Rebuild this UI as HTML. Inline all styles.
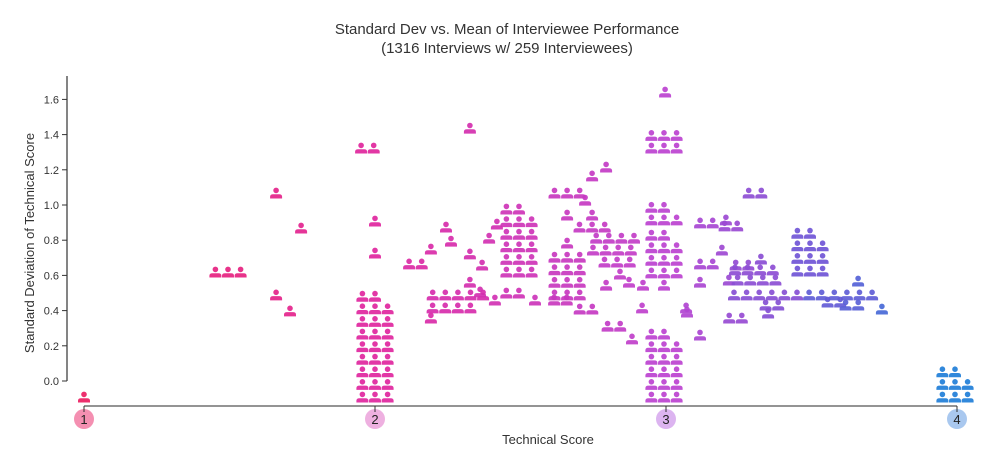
<!DOCTYPE html>
<html><head><meta charset="utf-8"><style>
body{margin:0;background:#fff;}
svg{display:block;font-family:"Liberation Sans",sans-serif;}
</style></head><body>
<svg id="chart" width="1000" height="466">
<text x="507" y="34" text-anchor="middle" font-size="15" fill="#333">Standard Dev vs. Mean of Interviewee Performance</text>
<text x="507" y="53" text-anchor="middle" font-size="15" fill="#333">(1316 Interviews w/ 259 Interviewees)</text>
<text transform="translate(34,243) rotate(-90)" text-anchor="middle" font-size="13" fill="#333">Standard Deviation of Technical Score</text>
<text x="548" y="444" text-anchor="middle" font-size="13" fill="#333">Technical Score</text>
<g id="axes"></g>
<g id="marks"></g>
</svg>
<script>
const yTicks=[0,0.2,0.4,0.6,0.8,1.0,1.2,1.4,1.6];
const xTicks=[1,2,3,4];
const tickColors=['#f48fb1','#eeb0e0','#dcb4f0','#a9c8ef'];
// clusters: mean, sd, count, columns
const means=[1.0,1.495,1.660,1.746,1.660,1.708,2.0,1.974,2.0,2.0,2.139,2.326,2.746,2.794,2.660,2.722,2.495,2.419,2.392,2.244,2.261,2.192,2.326,2.368,2.326,2.263,2.285,2.192,2.412,2.473,2.550,2.637,2.660,2.660,2.725,2.660,2.746,2.746,2.825,2.814,2.832,2.842,2.873,2.794,2.921,2.821,2.883,2.918,3.069,2.993,2.997,2.993,2.993,2.993,3.139,3.139,3.117,3.117,2.993,3.306,3.223,3.206,3.192,3.261,3.326,3.302,3.216,3.311,3.342,3.600,3.364,3.351,3.072,3.239,3.495,3.660,3.577,3.639,3.742,3.993,2.361];
const sds=[0,0.710,1.159,0.960,0.580,0.489,0,1.415,1.0,0.818,0.756,1.528,1.256,1.307,1.159,1.119,0.710,0.983,0.903,0.966,0.886,0.841,0.813,0.750,0.653,0.506,0.580,0.449,0.551,0.591,0.551,0.551,0.580,0.875,0.5,1.034,1.034,0.966,0.903,0.835,0.767,0.699,0.653,0.636,0.636,0.403,0.330,0.506,0.506,1.415,1.733,0.636,0.705,1.006,0.989,0.756,0.653,0.352,0,1.159,0.972,1.006,0.835,0.750,0.784,0.722,0.665,0.665,0.580,0.580,0.523,0.477,0.483,0.449,0.716,0.659,0.540,0.523,0.5,0,0.597];
const counts=[1,3,1,1,1,1,26,2,1,1,2,1,1,1,3,1,17,1,1,1,1,1,1,1,1,4,5,1,1,2,1,2,12,1,2,1,1,3,4,4,3,1,1,1,1,2,1,1,1,6,1,1,11,5,2,2,1,1,17,2,2,1,1,2,1,4,1,4,6,6,2,1,1,2,11,1,2,2,1,8,1];
const cols=[1,3,1,1,1,1,3,2,1,1,2,1,1,1,3,1,3,1,1,1,1,1,1,1,1,4,5,1,1,2,1,2,3,1,2,1,1,3,4,4,3,1,1,1,1,2,1,1,1,3,1,1,3,3,2,2,1,1,3,2,2,1,1,2,1,4,1,4,6,6,2,1,1,2,3,1,2,2,1,3,1];

const NS='http://www.w3.org/2000/svg';
const X=v=>84+(v-1)*291;
const Y=v=>381-v*176;
const OFF=16, STEP=12.6;
const axes=document.getElementById('axes'), marks=document.getElementById('marks');
function mk(t,a,p){const e=document.createElementNS(NS,t);for(const k in a)e.setAttribute(k,a[k]);p.appendChild(e);return e;}
const stops=[[1,[236,30,98]],[2,[224,38,158]],[3,[188,66,208]],[3.5,[111,85,214]],[4,[31,127,216]]];
function col(m){for(let i=0;i<stops.length-1;i++){const[a,ca]=stops[i],[b,cb]=stops[i+1];if(m<=b||i===stops.length-2){const t=Math.max(0,Math.min(1,(m-a)/(b-a)));return 'rgb('+ca.map((c,j)=>Math.round(c+(cb[j]-c)*t)).join(',')+')';}}}
// y axis
const ya=mk('line',{x1:67,y1:76,x2:67,y2:381,stroke:'#333','stroke-width':1.2},axes);

yTicks.forEach(v=>{
 const t=mk('line',{x1:62,y1:Y(v),x2:67,y2:Y(v),stroke:'#333'},axes);
 
 const l=mk('text',{x:59,y:Y(v)+4,'text-anchor':'end','font-size':11,fill:'#333'},axes);
 l.textContent=v.toFixed(1);
 
});
const xa=mk('line',{x1:X(1),y1:406,x2:X(4),y2:406,stroke:'#555','stroke-width':1.2},axes);

xTicks.forEach((v,i)=>{
 const c=mk('circle',{cx:X(v),cy:419,r:10,fill:tickColors[i]},axes);
 
 const t=mk('line',{x1:X(v),y1:406,x2:X(v),y2:412,stroke:'#333'},axes);
 
 const l=mk('text',{x:X(v),y:424,'text-anchor':'middle','font-size':13,fill:'#222'},axes);
 l.textContent=v;
 
});
means.forEach((m,k)=>{
 const n=counts[k],c=cols[k],fill=col(m);
 for(let i=0;i<n;i++){
  const ci=i%c,ri=Math.floor(i/c);
  const cx=X(m)+(ci-(c-1)/2)*STEP, cy=Y(sds[k])+OFF-ri*STEP;
  const g=mk('g',{transform:'translate('+cx.toFixed(1)+','+cy.toFixed(1)+')',fill:fill,'fill-opacity':0.92},marks);
  
  
  mk('circle',{cx:0,cy:-2.6,r:2.8},g);
  mk('path',{d:'M-6,5.5V3.6Q-6,1.2-3,1.2H3Q6,1.2 6,3.6V5.5Z'},g);
 }
});
</script>
</body></html>
